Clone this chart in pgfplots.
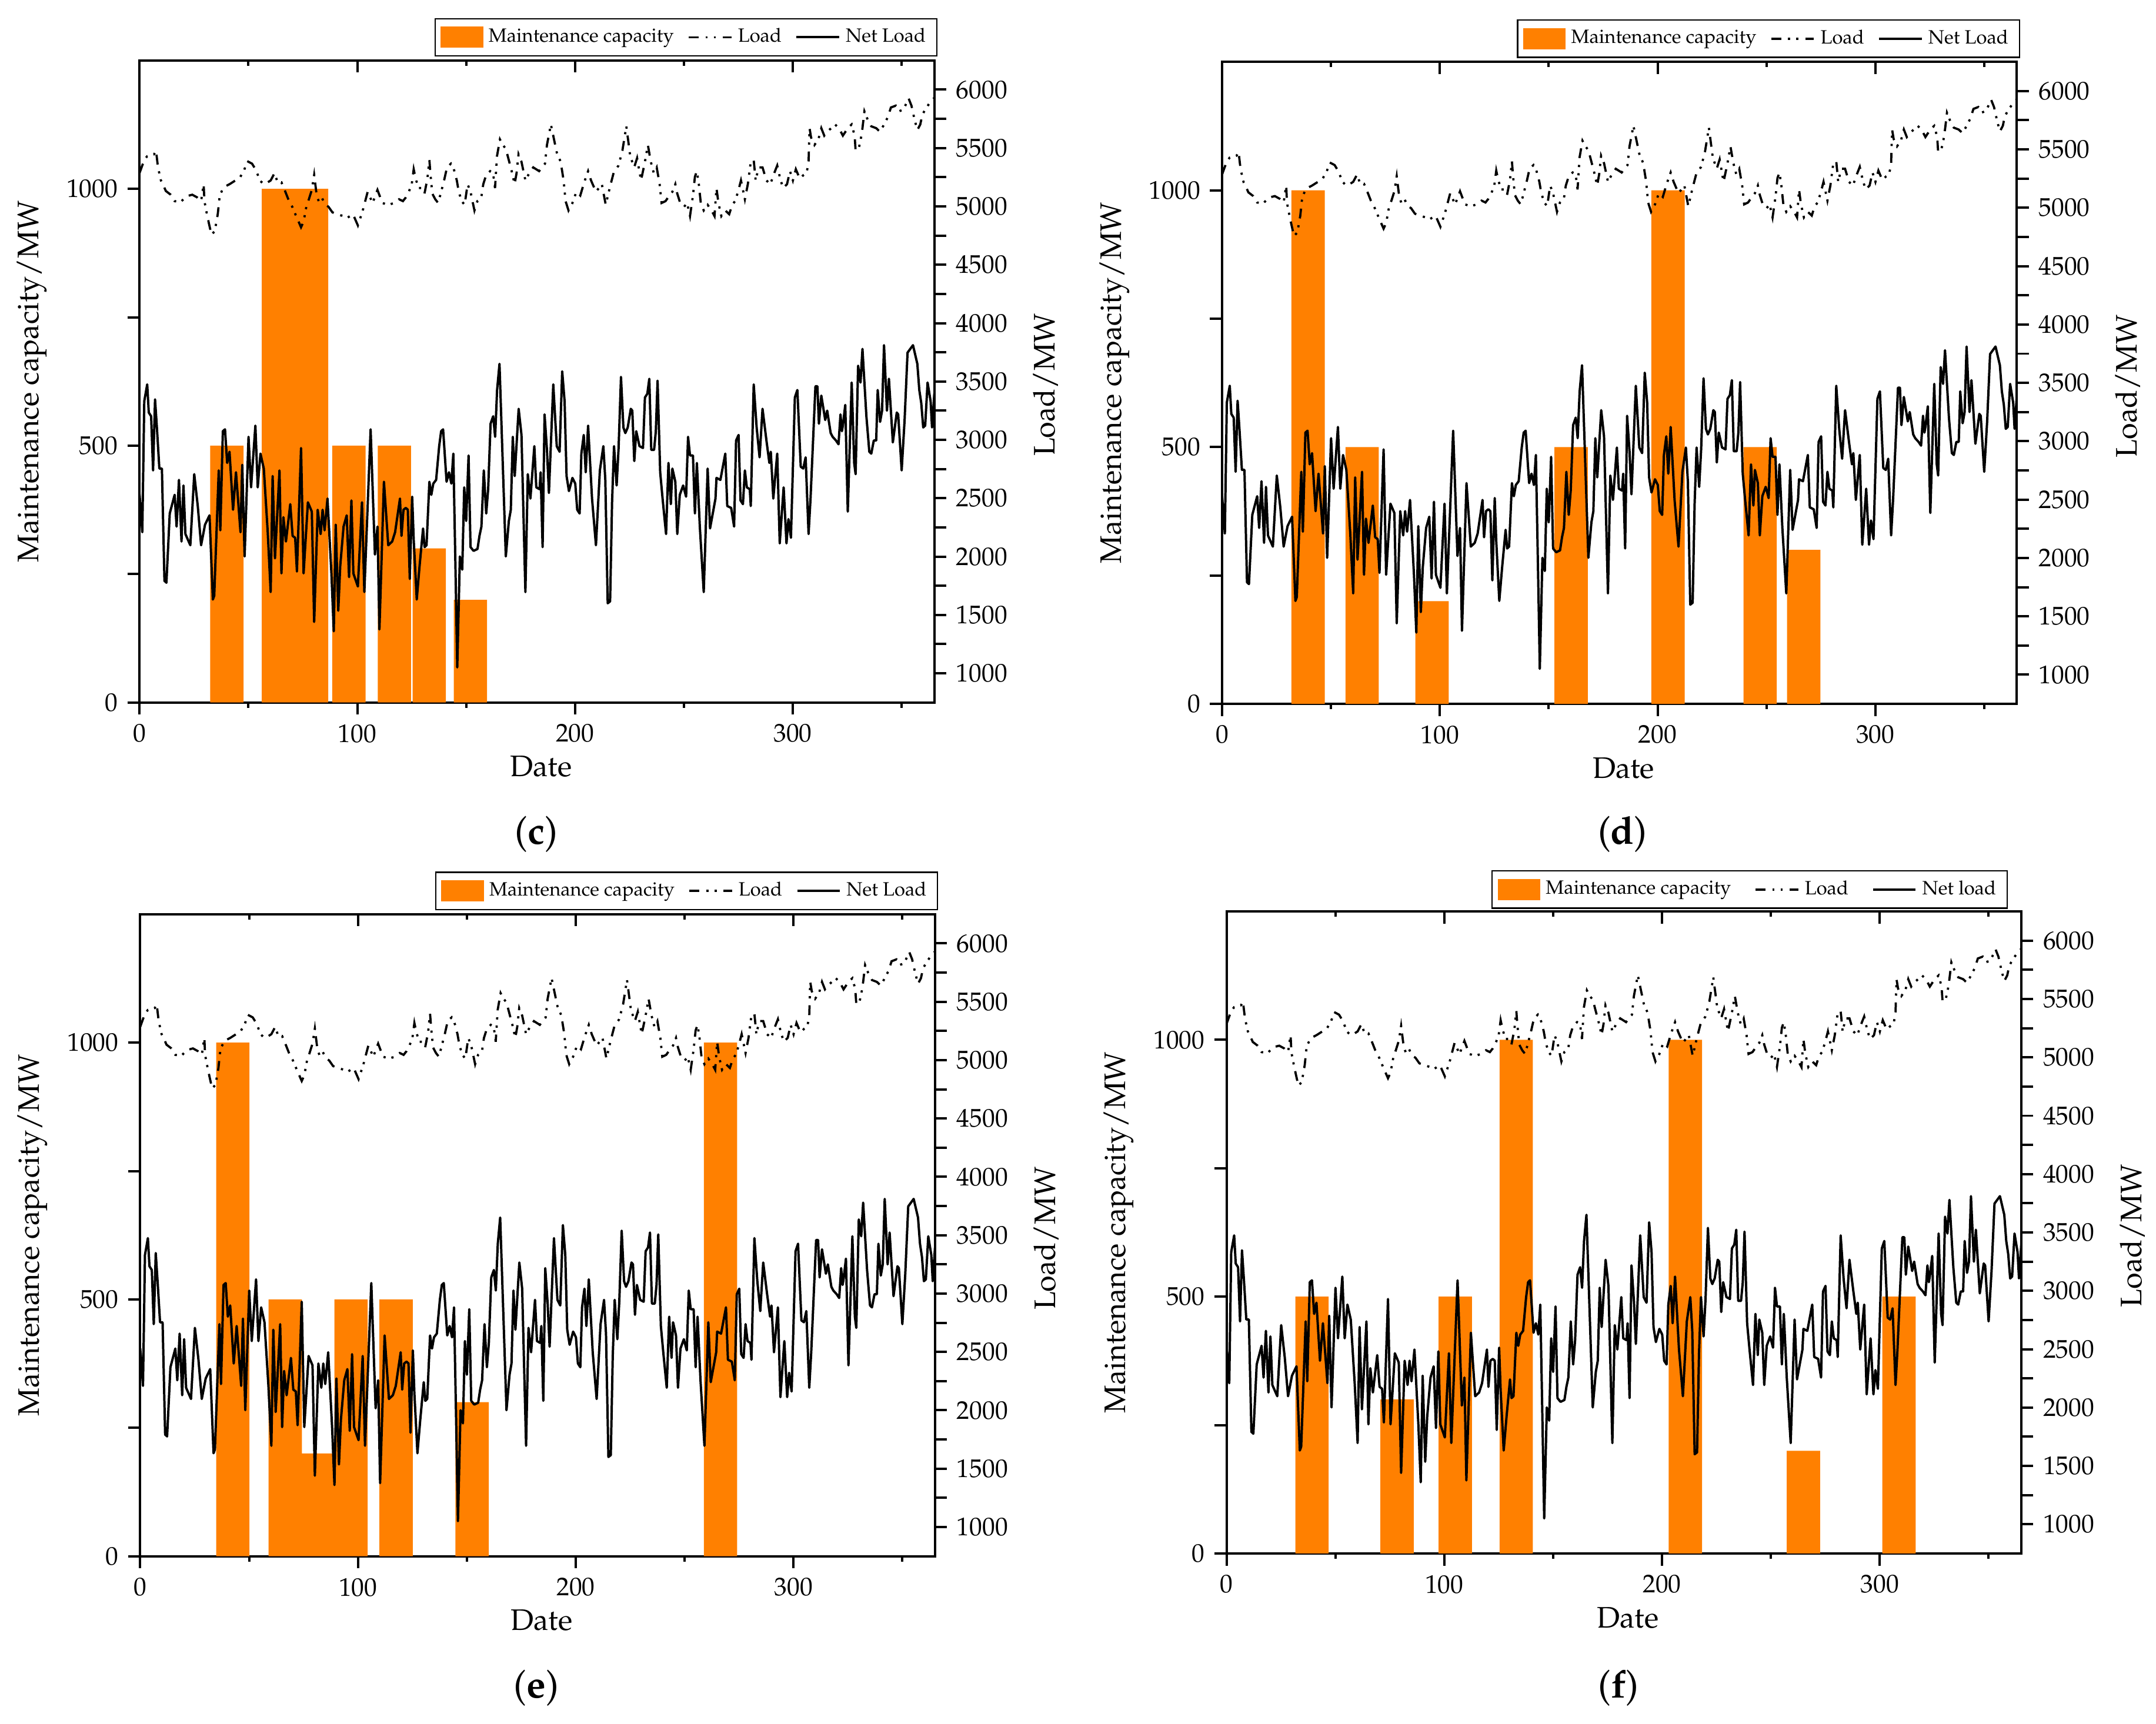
\documentclass[border=0pt]{standalone}
\usepackage[T1]{fontenc}
\usepackage{mathpazo}
\usepackage{pgfplots}
\usepackage{pgfplotstable}
\pgfplotsset{compat=1.18}
\definecolor{orangec}{RGB}{255,128,0}

\pgfplotstableread{
d v
0 2530
1.26 2209
2.16 3331
3.51 3475
4.23 3234
5.31 3202
6.21 2738
7.11 3347
8.01 3090
9.09 2754
10.26 2754
11.43 1792
12.33 1776
13.86 2369
14.76 2433
16.11 2529
17.01 2257
18.09 2657
19.26 2129
20.16 2609
21.06 2193
23.31 2097
25.11 2706
26.73 2433
28.26 2097
30.06 2273
32.13 2353
33.66 1632
34.29 1664
36.36 2738
37.08 2225
38.25 3074
39.24 3090
40.23 2802
41.31 2898
42.93 2401
44.28 2722
46.35 2209
47.16 2786
48.24 2001
50.04 3026
51.21 2593
53.19 3122
54.27 2593
55.53 2882
57.06 2754
58.86 2209
60.21 1696
61.11 2690
62.19 1985
64.26 2738
65.16 1856
66.06 2337
67.23 2129
69.21 2449
70.29 2177
71.46 2161
72.27 1872
74.16 2930
75.33 1856
77.31 2465
79.11 2385
80.19 1440
81.81 2401
83.16 2193
84.06 2401
84.96 2225
86.31 2497
88.11 1856
89.19 1360
90.09 2273
91.26 1536
92.16 1920
93.69 2257
95.13 2353
96.21 1824
97.29 2481
98.19 1856
100.26 1744
102.15 2465
103.23 1696
106.11 3090
108.09 2017
109.26 2257
110.16 1376
112.23 2641
114.21 2097
116.01 2129
117.36 2209
119.6 2497
120.3 2177
121.2 2401
122.3 2417
123.2 2401
124.1 1808
125.2 2513
125.9 2145
127.3 1632
128.6 1920
130.2 2241
130.9 2081
131.8 2097
133.1 2641
134.0 2529
134.9 2625
136.2 2657
137.6 2946
138.5 3074
139.4 3090
141.0 2641
142.1 2722
143.2 2625
144.1 2882
145.0 1985
145.9 1050
146.6 1600
147.1 2001
148.2 1888
149.1 2593
150.0 2305
151.1 2866
152.0 2081
153.4 2049
155.2 2065
156.1 2177
157.0 2257
158.1 2738
159.2 2369
160.1 2577
161.2 3138
162.4 3202
163.3 3026
164.2 3427
165.3 3651
166.4 3026
168.2 2001
169.6 2305
170.5 2401
171.4 3026
172.3 2690
174.1 3266
175.4 3042
177.2 1696
178.3 2706
179.5 2497
181.3 2946
182.2 2593
183.7 2577
184.2 2722
185.1 2081
186.0 3218
187.1 2914
188.0 2545
190.0 3475
191.6 2946
192.9 2898
194.1 3587
195.2 3331
196.1 2690
197.2 2561
198.8 2674
200.1 2625
201.0 2401
202.1 2369
202.9 2882
204.0 3042
204.9 2722
206.0 3122
207.8 2497
209.6 2097
211.4 2738
213.0 2946
213.9 2657
215.0 1600
216.1 1616
217.0 2465
217.9 2946
219.1 2609
220.0 2930
221.1 3539
222.2 3106
223.1 3058
224.2 3106
225.6 3266
226.3 3250
227.2 2818
228.1 3074
229.6 2946
231.2 2930
232.1 3363
233.2 3395
234.1 3523
235.0 2914
236.3 2914
237.1 3074
237.9 3507
239.1 2722
240.2 2497
241.8 2193
242.9 2802
244.0 2449
244.7 2754
246.05 2641
246.95 2193
248.1 2529
249.65 2609
251.0 2513
251.9 3026
252.8 2866
254.15 2866
255.05 2369
255.95 2802
257.3 2257
259.1 1696
260.9 2754
262.0 2241
264.5 2497
264.95 2674
266.75 2657
269.0 2882
269.9 2433
271.7 2417
273.05 2257
273.95 2994
275.1 3042
276.0 2481
277.1 2449
278.0 2738
278.9 2593
280.25 2577
280.7 2433
282.05 3475
283.4 3106
284.75 2850
286.1 3266
287.9 2994
289.25 2802
289.9 2898
291.05 2497
292.85 2882
294.0 2113
295.8 2593
297.1 2113
298.0 2321
299.15 2161
300.95 3363
302.1 3427
303.65 2770
304.8 2754
305.9 2850
307.25 2193
308.15 2497
310.4 3459
311.3 3459
312.0 3138
313.1 3379
314.9 3170
315.8 3250
317.4 3058
318.3 3026
319.85 2994
321.0 2962
321.9 3218
322.55 3074
323.0 3122
324.1 3299
325.25 2385
327.05 3491
328.2 2802
328.85 2706
330.0 3635
331.1 3491
332.0 3779
333.8 3202
335.15 2898
336.05 2882
337.2 2994
338.3 2994
339.0 3427
340.1 3154
341.0 3250
341.9 3811
343.25 3250
344.15 3523
345.95 2978
347.75 3234
348.4 3218
350.0 2738
351.35 3170
352.7 3747
355.2 3811
357.2 3651
358.1 3427
359.0 3315
359.9 3106
360.8 3122
361.9 3491
363.3 3331
363.95 3106
365 3395
}\netload

\pgfplotstableread{
d v
0 5286
2.16 5398
3.51 5430
5.31 5440
6.66 5446
7.56 5478
8.46 5334
9.81 5222
10.71 5190
12.06 5132
14.31 5100
16.11 5045
18.81 5036
21.51 5087
24.21 5100
26.46 5077
28.26 5045
29.43 5190
29.79 5045
30.51 4972
31.86 4853
33.03 4757
34.56 4789
35.91 4933
36.81 5093
38.61 5164
41.31 5190
44.01 5222
45.81 5238
48.06 5311
49.41 5388
51.66 5366
53.46 5311
55.26 5222
57.06 5190
58.86 5206
60.21 5222
62.01 5286
63.36 5206
65.16 5206
66.96 5125
68.31 5061
70.11 4997
71.91 4917
74.16 4821
75.33 4869
76.59 4997
77.76 5061
79.11 5141
80.19 5270
81.36 5093
82.26 5045
83.61 5077
85.41 5013
86.76 4997
88.56 4949
90.81 4933
93.51 4917
95.31 4901
98.01 4933
100.26 4837
102.51 4965
104.76 5125
107.01 5029
109.26 5141
111.51 5029
114.21 5013
116.91 5029
119.16 5061
120.95 5045
122.3 5077
123.65 5125
125.0 5190
125.9 5318
126.8 5238
128.15 5157
129.5 5157
130.85 5109
132.2 5238
133.1 5398
133.55 5286
134.45 5109
135.8 5061
137.15 5029
138.5 5125
139.85 5222
141.2 5334
143.0 5366
144.35 5318
145.7 5222
146.6 5125
147.95 5045
149.3 5013
150.65 5190
152.0 5125
153.8 4965
155.15 5045
156.95 5077
157.85 5190
159.2 5270
161.0 5302
162.35 5286
163.25 5157
164.15 5430
165.5 5574
166.85 5526
168.2 5494
169.55 5398
170.9 5302
172.25 5190
173.15 5286
174.05 5446
175.4 5382
177.2 5222
179.0 5286
180.8 5334
183.5 5302
186.2 5366
187.1 5526
188.9 5702
189.8 5622
191.6 5462
193.4 5382
194.75 5222
195.65 5045
197.0 4965
198.8 5029
200.6 5125
202.4 5093
204.2 5206
206.0 5302
207.35 5222
209.6 5125
212.3 5190
214.1 5013
215.9 5157
217.7 5286
219.95 5350
221.75 5478
223.55 5686
225.35 5430
227.15 5334
228.5 5414
230.3 5222
232.1 5382
233.45 5526
234.8 5382
236.15 5286
237.5 5334
238.85 5190
239.75 5029
241.55 5045
243.35 5093
244.7 5125
246.05 5190
246.95 5109
248.3 5029
250.1 4997
251.45 5029
252.8 4917
254.15 5093
255.05 5254
255.95 5302
256.85 5190
257.75 5029
259.1 4965
260.9 5013
262.7 4965
264.05 4917
264.95 5157
265.85 5029
267.2 4917
269.0 4965
270.8 4933
272.15 5013
273.5 5045
274.85 5125
276.2 5222
278.0 5061
279.35 5190
280.7 5382
282.05 5398
282.95 5222
284.3 5334
286.1 5334
287.9 5222
289.7 5190
291.5 5286
292.85 5350
294.2 5238
295.55 5157
297.35 5190
298.7 5302
300.05 5222
301.4 5318
303.2 5238
305.0 5270
306.35 5286
307.25 5382
307.7 5670
308.4 5590
309.95 5526
311.75 5574
313.1 5670
314.45 5606
315.8 5638
317.6 5670
319.4 5702
321.2 5670
323.0 5606
325.25 5670
327.05 5702
328.4 5606
328.85 5478
330.2 5494
331.1 5558
332.0 5670
332.9 5814
334.25 5750
336.05 5686
338.3 5670
340.1 5638
341.9 5702
343.7 5766
345.05 5847
347.3 5863
348.65 5814
350.9 5830
353.15 5927
354.5 5863
355.85 5750
357.2 5654
358.55 5702
359.45 5782
360.8 5830
362.6 5879
363.95 5911
365 5930
}\loaddata

\pgfplotsset{
  panelbase/.style={scale only axis, width=289pt, height=233.5pt,
    xmin=0, xmax=365, anchor=south west,
    axis line style={line width=0.85pt},
    tick style={line width=0.85pt, black},
    major tick length=4.4pt, minor tick length=1.9pt, tick align=outside,
    tick label style={font=\fontsize{9.3}{11}\selectfont},
    label style={font=\fontsize{10.8}{13}\selectfont}},
  barsaxis/.style={panelbase, ymin=0, ymax=1250,
    xtick={0,100,200,300}, minor xtick={50,150,250,350},
    xtick pos=bottom, ytick pos=left,
    ytick={0,250,500,750,1000}, yticklabels={0,,500,,1000},
    xlabel={Date}, ylabel={Maintenance capacity/MW},
    xlabel style={at={(axis description cs:0.505,-0.1)}, anchor=center},
    ylabel style={at={(axis description cs:-0.1355,0.5)}, anchor=center}},
  linesaxis/.style={panelbase, ymin=750, ymax=6250,
    axis x line=none, axis y line*=right,
    ytick={1000,1250,...,6000},
    yticklabels={1000,,1500,,2000,,2500,,3000,,3500,,4000,,4500,,5000,,5500,,6000},
    ylabel={Load/MW},
    ylabel style={at={(axis description cs:1.14,0.495)}, anchor=center},
    legend columns=-1,
    legend style={at={(axis description cs:1.004,1.006)}, anchor=south east,
      font=\fontsize{7}{8}\selectfont, draw=black, line width=0.5pt,
      inner xsep=2pt, inner ysep=1.5pt,
      /tikz/every even column/.append style={column sep=3pt}}},
  topaxis/.style={panelbase, ymin=0, ymax=1,
    axis x line*=top, axis y line=none,
    xtick={0,100,200,300}, minor xtick={50,150,250,350},
    xticklabels={}, tick align=inside},
  barstyle/.style={ybar, bar width=15.3, bar shift=0pt, fill=orangec, draw=none},
  barlegend/.style={legend image code/.code={\fill[orangec] (0pt,-3.6pt) rectangle (15pt,3.6pt);}},
  loadline/.style={black, line width=0.8pt,
    dash pattern=on 3.6pt off 2.5pt on 0.8pt off 2.2pt on 0.8pt off 2.5pt,
    legend image code/.code={\draw[##1] (0pt,0pt) -- (15.5pt,0pt);}},
  netline/.style={black, line width=0.85pt, line join=round,
    legend image code/.code={\draw[##1] (0pt,0pt) -- (15.5pt,0pt);}}
}

\begin{document}
\begin{tikzpicture}
\useasboundingbox (0pt,0pt) rectangle (784pt,627pt);

% ---------- panel (c) ----------
\begin{axis}[barsaxis, at={(50.75pt,371.5pt)}]
\addplot[barstyle] coordinates {(40.1,500) (63.8,1000) (79.0,1000) (96.15,500) (117.05,500) (133.05,300) (151.95,200)};
\end{axis}
\begin{axis}[topaxis, at={(50.75pt,371.5pt)}]
\addplot[draw=none] coordinates {(0,0)};
\end{axis}
\begin{axis}[linesaxis, at={(50.75pt,371.5pt)}]
\addlegendimage{barlegend}
\addlegendentry{Maintenance capacity}
\addplot[loadline] table[x=d,y=v] {\loaddata};
\addlegendentry{Load}
\addplot[netline] table[x=d,y=v] {\netload};
\addlegendentry{Net Load}
\end{axis}
\node[font=\fontsize{14}{16}\selectfont] at (195pt,323.5pt) {(\textbf{c})};

% ---------- panel (d) ----------
\begin{axis}[barsaxis, at={(444.4pt,371pt)}]
\addplot[barstyle] coordinates {(39.5,1000) (64.3,500) (96.4,200) (160.3,500) (204.8,1000) (247.1,500) (267.1,300)};
\end{axis}
\begin{axis}[topaxis, at={(444.4pt,371pt)}]
\addplot[draw=none] coordinates {(0,0)};
\end{axis}
\begin{axis}[linesaxis, at={(444.4pt,371pt)}]
\addlegendimage{barlegend}
\addlegendentry{Maintenance capacity}
\addplot[loadline] table[x=d,y=v] {\loaddata};
\addlegendentry{Load}
\addplot[netline] table[x=d,y=v] {\netload};
\addlegendentry{Net Load}
\end{axis}
\node[font=\fontsize{14}{16}\selectfont] at (590pt,323.5pt) {(\textbf{d})};

% ---------- panel (e) ----------
\begin{axis}[barsaxis, at={(51pt,61pt)}]
\addplot[barstyle] coordinates {(42.5,1000) (66.6,500) (81.7,200) (96.8,500) (117.5,500) (152.4,300) (266.5,1000)};
\end{axis}
\begin{axis}[topaxis, at={(51pt,61pt)}]
\addplot[draw=none] coordinates {(0,0)};
\end{axis}
\begin{axis}[linesaxis, at={(51pt,61pt)}]
\addlegendimage{barlegend}
\addlegendentry{Maintenance capacity}
\addplot[loadline] table[x=d,y=v] {\loaddata};
\addlegendentry{Load}
\addplot[netline] table[x=d,y=v] {\netload};
\addlegendentry{Net Load}
\end{axis}
\node[font=\fontsize{14}{16}\selectfont] at (195pt,13pt) {(\textbf{e})};

% ---------- panel (f) ----------
\begin{axis}[barsaxis, at={(446pt,62pt)}]
\addplot[barstyle] coordinates {(39.25,500) (78.3,300) (105.05,500) (133.05,1000) (210.75,1000) (264.95,200) (308.85,500)};
\end{axis}
\begin{axis}[topaxis, at={(446pt,62pt)}]
\addplot[draw=none] coordinates {(0,0)};
\end{axis}
\begin{axis}[linesaxis, at={(446pt,62pt)},
  legend style={at={(axis description cs:0.983,1.004)}, anchor=south east,
    /tikz/every even column/.append style={column sep=6.5pt}}]
\addlegendimage{barlegend}
\addlegendentry{Maintenance capacity}
\addplot[loadline] table[x=d,y=v] {\loaddata};
\addlegendentry{Load}
\addplot[netline] table[x=d,y=v] {\netload};
\addlegendentry{Net load}
\end{axis}
\node[font=\fontsize{14}{16}\selectfont] at (588.5pt,13pt) {(\textbf{f})};
\end{tikzpicture}
\end{document}
